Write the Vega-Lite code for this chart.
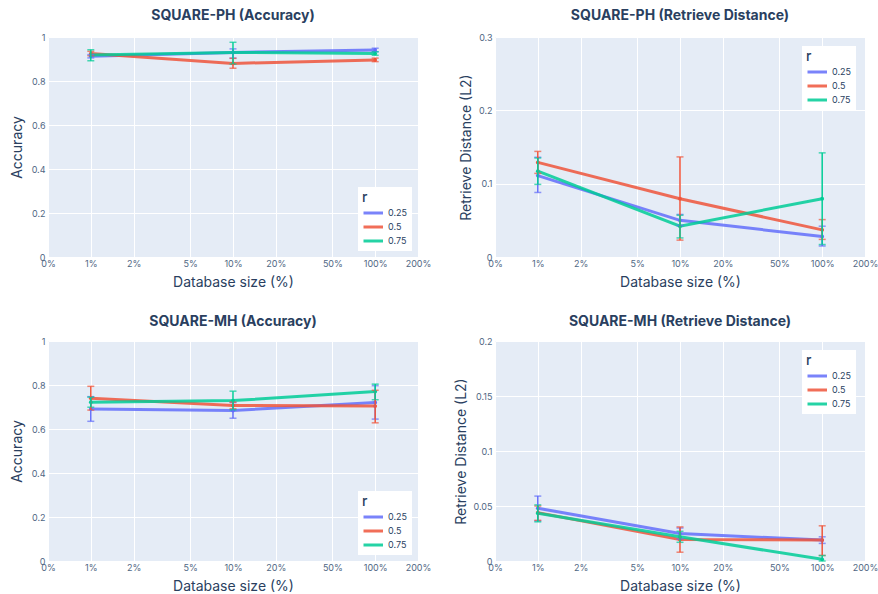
{
  "$schema": "https://vega.github.io/schema/vega-lite/v6.json",
  "background": "white",
  "padding": {"left": 10, "top": 9, "right": 0, "bottom": 0},
  "data": {"values": [
    {"p": "PH_acc", "r": "0.25", "size": 1, "v": 0.912, "lo": 0.905, "hi": 0.92},
    {"p": "PH_acc", "r": "0.25", "size": 10, "v": 0.930, "lo": 0.904, "hi": 0.946},
    {"p": "PH_acc", "r": "0.25", "size": 100, "v": 0.941, "lo": 0.933, "hi": 0.949},
    {"p": "PH_acc", "r": "0.5", "size": 1, "v": 0.925, "lo": 0.915, "hi": 0.935},
    {"p": "PH_acc", "r": "0.5", "size": 10, "v": 0.880, "lo": 0.858, "hi": 0.903},
    {"p": "PH_acc", "r": "0.5", "size": 100, "v": 0.896, "lo": 0.888, "hi": 0.904},
    {"p": "PH_acc", "r": "0.75", "size": 1, "v": 0.918, "lo": 0.892, "hi": 0.942},
    {"p": "PH_acc", "r": "0.75", "size": 10, "v": 0.930, "lo": 0.877, "hi": 0.976},
    {"p": "PH_acc", "r": "0.75", "size": 100, "v": 0.925, "lo": 0.917, "hi": 0.933},

    {"p": "PH_dist", "r": "0.25", "size": 1, "v": 0.111, "lo": 0.088, "hi": 0.136},
    {"p": "PH_dist", "r": "0.25", "size": 10, "v": 0.050, "lo": 0.043, "hi": 0.058},
    {"p": "PH_dist", "r": "0.25", "size": 100, "v": 0.028, "lo": 0.015, "hi": 0.042},
    {"p": "PH_dist", "r": "0.5", "size": 1, "v": 0.129, "lo": 0.114, "hi": 0.144},
    {"p": "PH_dist", "r": "0.5", "size": 10, "v": 0.0795, "lo": 0.023, "hi": 0.1365},
    {"p": "PH_dist", "r": "0.5", "size": 100, "v": 0.037, "lo": 0.024, "hi": 0.051},
    {"p": "PH_dist", "r": "0.75", "size": 1, "v": 0.117, "lo": 0.099, "hi": 0.135},
    {"p": "PH_dist", "r": "0.75", "size": 10, "v": 0.042, "lo": 0.026, "hi": 0.057},
    {"p": "PH_dist", "r": "0.75", "size": 100, "v": 0.0795, "lo": 0.017, "hi": 0.142},

    {"p": "MH_acc", "r": "0.25", "size": 1, "v": 0.691, "lo": 0.635, "hi": 0.747},
    {"p": "MH_acc", "r": "0.25", "size": 10, "v": 0.684, "lo": 0.649, "hi": 0.72},
    {"p": "MH_acc", "r": "0.25", "size": 100, "v": 0.721, "lo": 0.645, "hi": 0.797},
    {"p": "MH_acc", "r": "0.5", "size": 1, "v": 0.740, "lo": 0.686, "hi": 0.794},
    {"p": "MH_acc", "r": "0.5", "size": 10, "v": 0.707, "lo": 0.692, "hi": 0.722},
    {"p": "MH_acc", "r": "0.5", "size": 100, "v": 0.704, "lo": 0.628, "hi": 0.776},
    {"p": "MH_acc", "r": "0.75", "size": 1, "v": 0.722, "lo": 0.699, "hi": 0.745},
    {"p": "MH_acc", "r": "0.75", "size": 10, "v": 0.729, "lo": 0.687, "hi": 0.772},
    {"p": "MH_acc", "r": "0.75", "size": 100, "v": 0.770, "lo": 0.733, "hi": 0.804},

    {"p": "MH_dist", "r": "0.25", "size": 1, "v": 0.048, "lo": 0.0365, "hi": 0.059},
    {"p": "MH_dist", "r": "0.25", "size": 10, "v": 0.025, "lo": 0.020, "hi": 0.030},
    {"p": "MH_dist", "r": "0.25", "size": 100, "v": 0.019, "lo": 0.016, "hi": 0.022},
    {"p": "MH_dist", "r": "0.5", "size": 1, "v": 0.044, "lo": 0.037, "hi": 0.050},
    {"p": "MH_dist", "r": "0.5", "size": 10, "v": 0.0195, "lo": 0.008, "hi": 0.031},
    {"p": "MH_dist", "r": "0.5", "size": 100, "v": 0.019, "lo": 0.005, "hi": 0.032},
    {"p": "MH_dist", "r": "0.75", "size": 1, "v": 0.0435, "lo": 0.0356, "hi": 0.051},
    {"p": "MH_dist", "r": "0.75", "size": 10, "v": 0.022, "lo": 0.017, "hi": 0.027},
    {"p": "MH_dist", "r": "0.75", "size": 100, "v": 0.0015, "lo": 0.0, "hi": 0.005}
  ]},
  "columns": 2,
  "spacing": {"row": 84, "column": 77},
  "bounds": "flush",
  "resolve": {"scale": {"color": "independent", "y": "independent"}, "legend": {"color": "independent"}},
  "concat": [
    {
      "title": {"text": "SQUARE-PH (Accuracy)", "offset": 10},
      "width": 370, "height": 220,
      "transform": [{"filter": "datum.p == 'PH_acc'"}],
      "encoding": {
        "x": {"field": "size", "type": "quantitative", "scale": {"type": "log", "domain": [0.5, 200], "nice": false},
              "axis": {"title": "Database size (%)", "values": [0.5, 1, 2, 5, 10, 20, 50, 100, 200], "labelExpr": "datum.value < 0.9 ? '0%' : datum.value + '%'", "labelOverlap": false, "labelPadding": 2, "titlePadding": 7}},
        "color": {"field": "r", "type": "nominal", "title": "r", "scale": {"domain": ["0.25", "0.5", "0.75"], "range": ["#636efa", "#EF553B", "#00cc96"]},
                  "legend": {"orient": "bottom-right", "offset": 6}}
      },
      "layer": [
        {"mark": {"type": "line", "strokeWidth": 3, "opacity": 0.85, "point": {"size": 14, "filled": true}},
         "encoding": {"y": {"field": "v", "type": "quantitative", "scale": {"domain": [0, 1], "nice": false, "zero": false},
                            "axis": {"title": "Accuracy", "values": [0, 0.2, 0.4, 0.6, 0.8, 1], "format": "~g", "labelPadding": 3, "titlePadding": 7}}}},
        {"mark": {"type": "errorbar", "ticks": {"size": 7}, "thickness": 1.5},
         "encoding": {"y": {"field": "lo", "type": "quantitative", "axis": {"title": "Accuracy"}}, "y2": {"field": "hi"}}}
      ]
    },
    {
      "title": {"text": "SQUARE-PH (Retrieve Distance)", "offset": 10},
      "width": 370, "height": 220,
      "transform": [{"filter": "datum.p == 'PH_dist'"}],
      "encoding": {
        "x": {"field": "size", "type": "quantitative", "scale": {"type": "log", "domain": [0.5, 200], "nice": false},
              "axis": {"title": "Database size (%)", "values": [0.5, 1, 2, 5, 10, 20, 50, 100, 200], "labelExpr": "datum.value < 0.9 ? '0%' : datum.value + '%'", "labelOverlap": false, "labelPadding": 2, "titlePadding": 7}},
        "color": {"field": "r", "type": "nominal", "title": "r", "scale": {"domain": ["0.25", "0.5", "0.75"], "range": ["#636efa", "#EF553B", "#00cc96"]},
                  "legend": {"orient": "top-right", "offset": 9}}
      },
      "layer": [
        {"mark": {"type": "line", "strokeWidth": 3, "opacity": 0.85, "point": {"size": 14, "filled": true}},
         "encoding": {"y": {"field": "v", "type": "quantitative", "scale": {"domain": [0, 0.3], "nice": false, "zero": false},
                            "axis": {"title": "Retrieve Distance (L2)", "values": [0, 0.05, 0.1, 0.15, 0.2, 0.25, 0.3], "format": "~g", "labelPadding": 3, "titlePadding": 5}}}},
        {"mark": {"type": "errorbar", "ticks": {"size": 7}, "thickness": 1.5},
         "encoding": {"y": {"field": "lo", "type": "quantitative", "axis": {"title": "Retrieve Distance (L2)"}}, "y2": {"field": "hi"}}}
      ]
    },
    {
      "title": {"text": "SQUARE-MH (Accuracy)", "offset": 8},
      "width": 370, "height": 220,
      "transform": [{"filter": "datum.p == 'MH_acc'"}],
      "encoding": {
        "x": {"field": "size", "type": "quantitative", "scale": {"type": "log", "domain": [0.5, 200], "nice": false},
              "axis": {"title": "Database size (%)", "values": [0.5, 1, 2, 5, 10, 20, 50, 100, 200], "labelExpr": "datum.value < 0.9 ? '0%' : datum.value + '%'", "labelOverlap": false, "labelPadding": 2, "titlePadding": 7}},
        "color": {"field": "r", "type": "nominal", "title": "r", "scale": {"domain": ["0.25", "0.5", "0.75"], "range": ["#636efa", "#EF553B", "#00cc96"]},
                  "legend": {"orient": "bottom-right", "offset": 6}}
      },
      "layer": [
        {"mark": {"type": "line", "strokeWidth": 3, "opacity": 0.85, "point": {"size": 14, "filled": true}},
         "encoding": {"y": {"field": "v", "type": "quantitative", "scale": {"domain": [0, 1], "nice": false, "zero": false},
                            "axis": {"title": "Accuracy", "values": [0, 0.2, 0.4, 0.6, 0.8, 1], "format": "~g", "labelPadding": 3, "titlePadding": 7}}}},
        {"mark": {"type": "errorbar", "ticks": {"size": 7}, "thickness": 1.5},
         "encoding": {"y": {"field": "lo", "type": "quantitative", "axis": {"title": "Accuracy"}}, "y2": {"field": "hi"}}}
      ]
    },
    {
      "title": {"text": "SQUARE-MH (Retrieve Distance)", "offset": 8},
      "width": 370, "height": 220,
      "transform": [{"filter": "datum.p == 'MH_dist'"}],
      "encoding": {
        "x": {"field": "size", "type": "quantitative", "scale": {"type": "log", "domain": [0.5, 200], "nice": false},
              "axis": {"title": "Database size (%)", "values": [0.5, 1, 2, 5, 10, 20, 50, 100, 200], "labelExpr": "datum.value < 0.9 ? '0%' : datum.value + '%'", "labelOverlap": false, "labelPadding": 2, "titlePadding": 7}},
        "color": {"field": "r", "type": "nominal", "title": "r", "scale": {"domain": ["0.25", "0.5", "0.75"], "range": ["#636efa", "#EF553B", "#00cc96"]},
                  "legend": {"orient": "top-right", "offset": 9}}
      },
      "layer": [
        {"mark": {"type": "line", "strokeWidth": 3, "opacity": 0.85, "point": {"size": 14, "filled": true}},
         "encoding": {"y": {"field": "v", "type": "quantitative", "scale": {"domain": [0, 0.2], "nice": false, "zero": false},
                            "axis": {"title": "Retrieve Distance (L2)", "values": [0, 0.05, 0.1, 0.15, 0.2], "format": "~g", "labelPadding": 3, "titlePadding": 5}}}},
        {"mark": {"type": "errorbar", "ticks": {"size": 7}, "thickness": 1.5},
         "encoding": {"y": {"field": "lo", "type": "quantitative", "axis": {"title": "Retrieve Distance (L2)"}}, "y2": {"field": "hi"}}}
      ]
    }
  ],
  "config": {
    "font": "Inter",
    "view": {"fill": "#E5ECF6", "stroke": null},
    "axis": {"domain": false, "ticks": false, "gridColor": "white", "gridWidth": 1, "gridOpacity": 1, "labelFlush": false,
             "labelFont": "Inter", "labelFontSize": 9, "labelColor": "#506784",
             "titleFont": "Inter", "titleFontSize": 14, "titleFontWeight": "normal", "titleColor": "#2a3f5f"},
    "title": {"font": "Inter", "fontSize": 14, "fontWeight": "bold", "color": "#2a3f5f", "anchor": "middle"},
    "legend": {"fillColor": "white", "padding": 4, "titleFont": "Inter", "titleFontSize": 14, "titleFontWeight": 500, "titleColor": "#2a3f5f", "titlePadding": 0,
               "labelFont": "Inter", "labelFontSize": 9, "labelColor": "#2a3f5f", "labelOffset": 10,
               "symbolType": "M-1,0L2,0", "symbolStrokeWidth": 3, "symbolSize": 169, "rowPadding": 0}
  }
}
